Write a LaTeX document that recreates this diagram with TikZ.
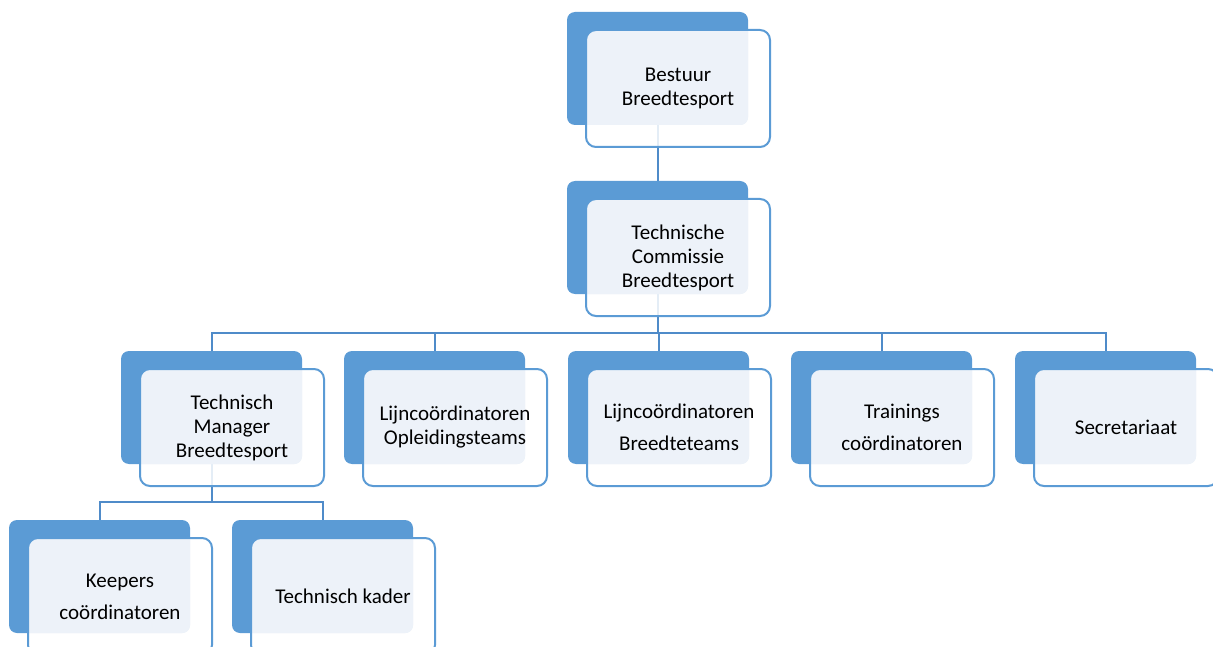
\documentclass[tikz,border=0pt]{standalone}
\usepackage{fontspec}
\setmainfont{Carlito}
\usetikzlibrary{calc}
\definecolor{boxblue}{HTML}{5B9BD5}
\definecolor{lightfill}{HTML}{EDF2F9}
\definecolor{linkblue}{HTML}{4F8BC9}
\pgfdeclarelayer{bg}
\pgfdeclarelayer{backl}
\pgfdeclarelayer{midl}
\pgfsetlayers{bg,backl,midl,main}
\tikzset{
  backbox/.style={fill=boxblue, rounded corners=8pt, minimum width=181pt, minimum height=113pt, inner sep=0pt, outer sep=0pt},
  frontbox/.style={draw=boxblue, line width=2pt, rounded corners=10pt, minimum width=184pt, minimum height=117pt, inner sep=0pt, outer sep=0pt, align=center, text=black, font=\fontsize{21}{24}\selectfont},
  wide/.style={font=\fontsize{21}{32}\selectfont},
  link/.style={draw=linkblue, line width=2pt}
}
\newcommand\orgbox[5][]{%
  \node[frontbox, anchor=north west, #1] (#2) at (#3+19,#4+18) {#5};
  \begin{pgfonlayer}{backl}
    \node[backbox, anchor=north west] (#2-b) at (#3,#4) {};
  \end{pgfonlayer}
  \begin{pgfonlayer}{midl}
    \fill[white, fill opacity=0.85, rounded corners=10pt] (#2.south west) rectangle (#2.north east);
    \begin{scope}
      \clip[rounded corners=8pt] (#2-b.south west) rectangle (#2-b.north east);
      \fill[lightfill, rounded corners=10pt] (#2.south west) rectangle (#2.north east);
    \end{scope}
  \end{pgfonlayer}}
\begin{document}
\begin{tikzpicture}[x=1pt, y=-1pt]
\useasboundingbox (0,0) rectangle (1213,647);
\orgbox{top}{567}{12}{Bestuur\\Breedtesport}
\orgbox{tc}{567}{181}{Technische\\Commissie\\Breedtesport}
\orgbox{tm}{121}{351}{Technisch\\Manager\\Breedtesport}
\orgbox{lo}{344}{351}{Lijncoördinatoren\\Opleidingsteams}
\orgbox[wide]{lb}{568}{351}{Lijncoördinatoren\\Breedteteams}
\orgbox[wide]{tr}{791}{351}{Trainings\\coördinatoren}
\orgbox{se}{1015}{351}{Secretariaat}
\orgbox[wide]{kc}{9}{520}{Keepers\\coördinatoren}
\orgbox{tk}{232}{520}{Technisch kader}
\begin{pgfonlayer}{bg}
  \draw[link] (top-b.south) -- (tc-b.north);
  \foreach \c in {tm,lo,lb,tr,se}
    \draw[link] (tc-b.south) -- ++(0,39) -| (\c-b.north);
  \foreach \c in {kc,tk}
    \draw[link] (tm-b.south) -- ++(0,38) -| (\c-b.north);
\end{pgfonlayer}
\end{tikzpicture}
\end{document}
